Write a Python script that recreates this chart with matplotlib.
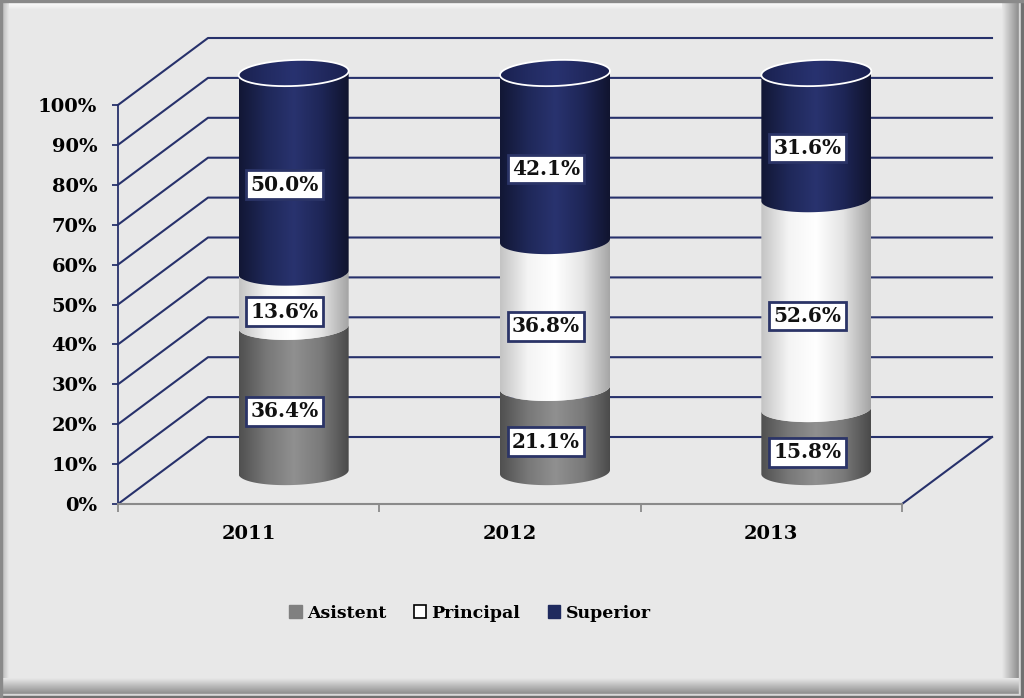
import numpy as np
import matplotlib
matplotlib.use("Agg")
import matplotlib.pyplot as plt
import matplotlib.transforms as mtransforms
from matplotlib.path import Path
from matplotlib.patches import PathPatch, Patch
from matplotlib.lines import Line2D
from matplotlib.colors import LinearSegmentedColormap

# ---------------- data ----------------
years = ['2011', '2012', '2013']
asistent = [36.4, 21.1, 15.8]
principal = [13.6, 36.8, 52.6]
superior = [50.0, 42.1, 31.6]
series_names = ['Asistent', 'Principal', 'Superior']
yticks = list(range(0, 101, 10))
ytick_labels = [f'{v}%' for v in yticks]

# ---------------- style ----------------
W, H, DPI = 1024, 698, 100
FONT = 'DejaVu Serif'
GRID = '#27316b'
BG = '#e8e8e8'
DEPTH_X, DEPTH_Y = 90, 67          # depth of the 3D box in pixels
CYL_DX, CYL_DY = 45, 32            # cylinder axis position inside the box (pixels)
CYL_HALF_W_PX = 55
CYL_HALF_H_PX = 13
SHEAR_PX = 2

series_grad = [
    ['#505050', '#787878', '#909090', '#7a7a7a', '#4a4a4a'],    # Asistent
    ['#c4c4c4', '#f4f4f4', '#ffffff', '#e4e4e4', '#a4a4a4'],    # Principal
    ['#121735', '#1f2859', '#29336f', '#1e2657', '#10142e'],    # Superior
]
legend_colors = ['#808080', '#ffffff', '#1f2a5e']

fig = plt.figure(figsize=(W / DPI, H / DPI), dpi=DPI)
fig.patch.set_facecolor(BG)

# ---------------- frame decoration ----------------
bg = fig.add_axes([0, 0, 1, 1], zorder=-10)
bg.axis('off')
def grad_band(axx, extent, c0, c1, horizontal):
    cm = LinearSegmentedColormap.from_list('g', [c0, c1])
    g = np.linspace(0, 1, 64)
    img = g[None, :] if horizontal else g[:, None]
    axx.imshow(img, cmap=cm, extent=extent, aspect='auto', interpolation='bilinear')
grad_band(bg, [0, W, 10, 2], '#ffffff', BG, False)          # top highlight
grad_band(bg, [2, 9, H, 0], '#b8b8b8', BG, True)             # left band
grad_band(bg, [1002, 1019, H, 0], BG, '#8c8c8c', True)       # right shadow
grad_band(bg, [0, 1019, 694, 678], BG, '#8c8c8c', False)     # bottom shadow
bg.add_patch(plt.Rectangle((1019, 0), 2, H, color='#d8d8d8'))
bg.add_patch(plt.Rectangle((0, 694), 1021, 2, color='#d8d8d8'))
bg.add_patch(plt.Rectangle((1021, 0), 3, H, color='#707070'))
bg.add_patch(plt.Rectangle((0, 696), W, 2, color='#707070'))
bg.add_patch(plt.Rectangle((0, 0), W, 1.5, color='#8a8a8a'))
bg.add_patch(plt.Rectangle((0, 0), 2, H, color='#8a8a8a'))
bg.set_xlim(0, W)
bg.set_ylim(H, 0)

# ---------------- main axes (front plane) ----------------
x0, x1, yb, yt = 118, 902, 504, 105
ax = fig.add_axes([x0 / W, 1 - yb / H, (x1 - x0) / W, (yb - yt) / H])
ax.set_facecolor('none')
ax.set_xlim(-0.5, len(years) - 0.5)
ax.set_ylim(0, 100)

for s in ['top', 'right']:
    ax.spines[s].set_visible(False)
ax.spines['left'].set_color(GRID)
ax.spines['left'].set_linewidth(1.3)
ax.spines['bottom'].set_color('#8a8a8a')
ax.spines['bottom'].set_linewidth(1.5)

ax.set_yticks(yticks)
ax.set_yticklabels(ytick_labels, fontfamily=FONT, fontweight='bold', fontsize=14)
ax.tick_params(axis='y', direction='out', length=4, width=1.3, color=GRID, pad=11)

ax.set_xticks(np.arange(-0.5, len(years)), minor=False)
ax.set_xticklabels([])
ax.tick_params(axis='x', which='major', direction='out', length=6, width=1.3, color='#8a8a8a')
ax.set_xticks(np.arange(len(years)), minor=True)
ax.set_xticklabels(years, minor=True, fontfamily=FONT, fontweight='bold', fontsize=14)
ax.tick_params(axis='x', which='minor', length=0, pad=15)

fig.canvas.draw()
sx = ax.bbox.width / (len(years))
sy = ax.bbox.height / 100.0

ident = mtransforms.IdentityTransform()
def disp(x, y):
    return ax.transData.transform((x, y))

# grid: left wall diagonals + back wall horizontals + floor right edge
xl, xr = -0.5, len(years) - 0.5
for v in yticks:
    pf = disp(xl, v)
    pb = pf + np.array([DEPTH_X, DEPTH_Y])
    pbr = disp(xr, v) + np.array([DEPTH_X, DEPTH_Y])
    ax.add_line(Line2D([pf[0], pb[0], pbr[0]], [pf[1], pb[1], pbr[1]],
                       transform=ident, color=GRID, lw=1.5, clip_on=False, zorder=1))
pf = disp(xr, 0)
pb = pf + np.array([DEPTH_X, DEPTH_Y])
ax.add_line(Line2D([pf[0], pb[0]], [pf[1], pb[1]], transform=ident, color=GRID,
                   lw=1.5, clip_on=False, zorder=1))

# ---------------- cylinders ----------------
tr_mid = mtransforms.offset_copy(ax.transData, fig=fig, x=CYL_DX, y=CYL_DY, units='dots')
tr_lab = mtransforms.offset_copy(ax.transData, fig=fig, x=CYL_DX - 9, y=CYL_DY - 12, units='dots')
a = CYL_HALF_W_PX / sx
b = CYL_HALF_H_PX / sy
k = SHEAR_PX / sy

def arc(c, v, t):
    return np.column_stack([c + a * np.cos(t), v + b * np.sin(t) + k * np.cos(t)])

def grad_fill(path, c, ylo, yhi, colors, z):
    patch = PathPatch(path, transform=tr_mid, facecolor='none', edgecolor='none',
                      zorder=z, clip_on=False)
    ax.add_patch(patch)
    cm = LinearSegmentedColormap.from_list('cyl', colors)
    img = np.linspace(0, 1, 128)[None, :]
    im = ax.imshow(img, cmap=cm, extent=[c - a, c + a, ylo, yhi], aspect='auto',
                   interpolation='bilinear', transform=tr_mid, zorder=z)
    im.set_clip_path(patch)
    im.set_clip_box(fig.bbox)

series = [asistent, principal, superior]
t_low = np.linspace(np.pi, 2 * np.pi, 80)
t_full = np.linspace(0, 2 * np.pi, 160)
for c in range(len(years)):
    base = 0.0
    for s_idx, vals in enumerate(series):
        v = vals[c]
        y0, y1 = base, base + v
        pts = np.vstack([arc(c, y0, t_low), arc(c, y1, t_low[::-1])])
        path = Path(np.vstack([pts, pts[:1]]), closed=True)
        grad_fill(path, c, y0 - b - 2 * k - 1, y1 + b + 1, series_grad[s_idx], 3 + s_idx)
        ax.text(c, (y0 + y1) / 2, f'{v:.1f}%', transform=tr_lab, ha='center', va='center',
                fontfamily=FONT, fontweight='bold', fontsize=14.5, color='#111111', zorder=10,
                clip_on=False,
                bbox=dict(boxstyle='square,pad=0.22', fc='white', ec='#2b3467', lw=2))
        base = y1
    # top cap
    cap = arc(c, base, t_full)
    cpath = Path(cap, closed=False)
    grad_fill(cpath, c, base - b - 1, base + b + 1,
              ['#1a2150', '#222b62', '#283270', '#222a60', '#1a2150'], 7)
    ax.add_patch(PathPatch(cpath, transform=tr_mid, facecolor='none', edgecolor='white',
                           lw=1.3, zorder=8, clip_on=False))

ax.set_xlim(-0.5, len(years) - 0.5)
ax.set_ylim(0, 100)

# ---------------- legend ----------------
handles = [Patch(facecolor=legend_colors[0], edgecolor='#808080'),
           Patch(facecolor=legend_colors[1], edgecolor='black', lw=1.2),
           Patch(facecolor=legend_colors[2], edgecolor='#1f2a5e')]
fig.legend(handles, series_names, loc='center', bbox_to_anchor=(470 / W, 1 - 613 / H),
           ncol=3, frameon=False, handlelength=0.7, handleheight=0.7, handletextpad=0.3,
           columnspacing=1.6, prop=dict(family=FONT, weight='bold', size=12.5))

fig.savefig('out.png', dpi=DPI, facecolor=fig.get_facecolor())
